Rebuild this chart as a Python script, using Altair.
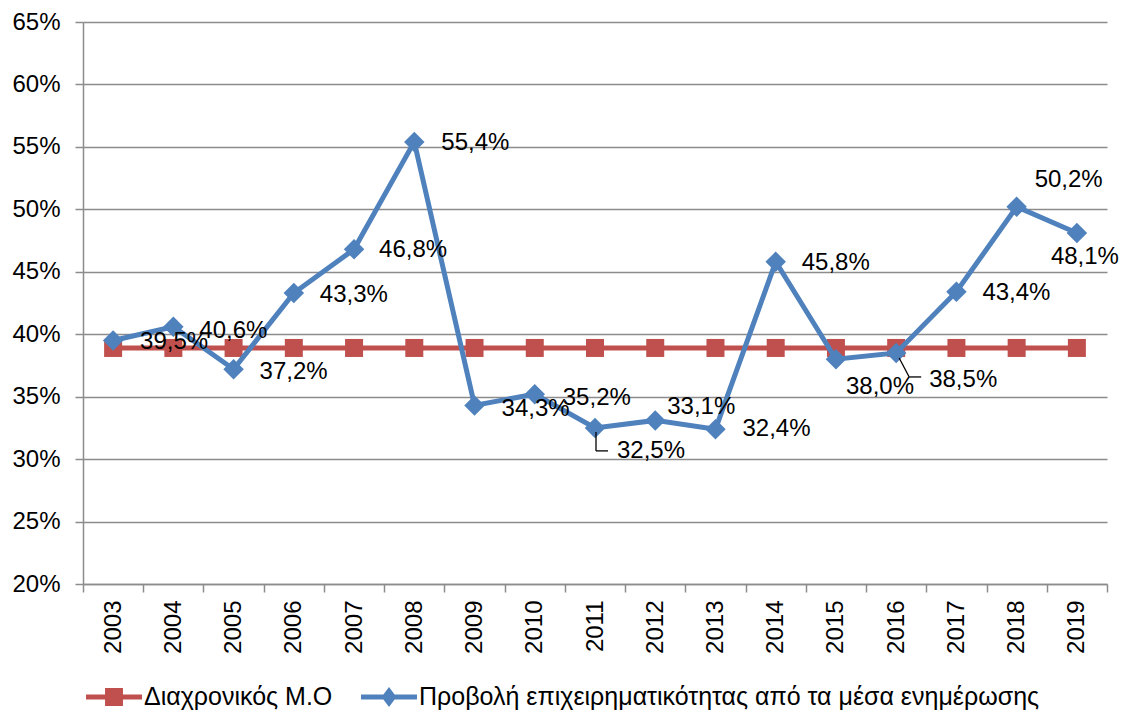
import altair as alt
import pandas as pd

years = [str(y) for y in range(2003, 2020)]
projection = [39.5, 40.6, 37.2, 43.3, 46.8, 55.4, 34.3, 35.2, 32.5, 33.1,
              32.4, 45.8, 38.0, 38.5, 43.4, 50.2, 48.1]
average = [38.9] * 17
series_names = ["Διαχρονικός Μ.Ο",
                "Προβολή επιχειρηματικότητας από τα μέσα ενημέρωσης"]

# label offsets (pixels) relative to each point
label_dx = [27, 26, 26, 26, 25, 27, 27, 28, 22, 12, 27, 26, 10, 33, 26, 18, -26]
label_dy = [2, 4, 3, 2, 1, 1, 4, 4, 23, -13, 0, 1, 28, 27, 1, -27, 24]

# leader line segments (pixel offsets from the point): year, x1, y1, x2, y2
leader_segments = [
    ("2011", 1, 4, 1, 23), ("2011", 1, 23, 13, 23),
    ("2016", 3, 5, 13, 24), ("2016", 13, 24, 25, 24),
]

RED = "#C0504D"
BLUE = "#4F81BD"
GRID = "#8C8C8C"
FONT = "Liberation Sans"
FS = 24
LEG_FS = 25

df = pd.DataFrame({
    "year": years * 2,
    "value": average + projection,
    "series": [series_names[0]] * 17 + [series_names[1]] * 17,
})
avg_df = df[df.series == series_names[0]]
proj_df = df[df.series == series_names[1]]

lab = pd.DataFrame({
    "year": years,
    "value": projection,
    "text": [f"{v:.1f}".replace(".", ",") + "%" for v in projection],
})
val_map = dict(zip(years, projection))

x_enc = alt.X(
    "year:O",
    scale=alt.Scale(type="band", paddingInner=0, paddingOuter=0),
    bandPosition=0.5,
    title=None,
    axis=alt.Axis(
        labelAngle=270, labelFontSize=FS, labelFont=FONT, labelColor="black",
        tickBand="extent", tickSize=8, tickColor=GRID, tickWidth=1.5,
        domainColor=GRID, domainWidth=1.5, grid=False, labelPadding=8,
    ),
)
y_enc = alt.Y(
    "value:Q",
    scale=alt.Scale(domain=[20, 65], nice=False, zero=False),
    title=None,
    axis=alt.Axis(
        values=list(range(20, 70, 5)), labelExpr="datum.value + '%'",
        labelFontSize=FS, labelFont=FONT, labelColor="black",
        grid=True, gridColor=GRID, gridWidth=1.5,
        tickSize=8, tickColor=GRID, tickWidth=1.5,
        domainColor=GRID, domainWidth=1.5, labelPadding=15,
    ),
)

avg_line = alt.Chart(avg_df).mark_line(color=RED, strokeWidth=5).encode(x=x_enc, y=y_enc)
avg_pts = alt.Chart(avg_df).mark_point(
    shape="square", size=324, filled=True, color=RED, opacity=1
).encode(x=x_enc, y=y_enc)
proj_line = alt.Chart(proj_df).mark_line(color=BLUE, strokeWidth=5).encode(x=x_enc, y=y_enc)
proj_pts = alt.Chart(proj_df).mark_point(
    shape="diamond", size=420, filled=True, color=BLUE, opacity=1
).encode(x=x_enc, y=y_enc)

label_layers = []
for i in range(len(years)):
    label_layers.append(
        alt.Chart(lab.iloc[[i]]).mark_text(
            align="left", baseline="middle", fontSize=FS, font=FONT,
            color="black", dx=label_dx[i], dy=label_dy[i],
        ).encode(x=x_enc, y=y_enc, text="text:N")
    )

leader_layers = []
for yr, ax, ay, bx, by in leader_segments:
    seg = pd.DataFrame({"year": [yr], "value": [val_map[yr]]})
    leader_layers.append(
        alt.Chart(seg).mark_rule(
            color="black", strokeWidth=1.3,
            xOffset=ax, yOffset=ay, x2Offset=bx, y2Offset=by,
        ).encode(x=x_enc, y=y_enc, x2="year:O", y2="value:Q")
    )

sq_path = "M-1,-0.09H-0.32V-0.32H0.32V-0.09H1V0.09H0.32V0.32H-0.32V0.09H-1Z"
dm_path = "M-1,-0.09H-0.2L0,-0.36L0.2,-0.09H1V0.09H0.2L0,0.36L-0.2,0.09H-1Z"

leg = alt.Legend(
    title=None, orient="none", legendX=3, legendY=647,
    direction="horizontal", symbolSize=3136, symbolOpacity=1,
    symbolStrokeWidth=0, labelFontSize=LEG_FS, labelFont=FONT,
    labelColor="black", labelOffset=2, columnPadding=28,
    padding=0, labelLimit=900,
)
legend_layer = alt.Chart(df).mark_point(filled=True, opacity=0).encode(
    x=x_enc, y=y_enc,
    fill=alt.Fill("series:N", scale=alt.Scale(domain=series_names, range=[RED, BLUE]),
                  legend=leg),
    shape=alt.Shape("series:N", scale=alt.Scale(domain=series_names, range=[sq_path, dm_path]),
                    legend=leg),
)

chart = alt.layer(
    avg_line, avg_pts, proj_line, proj_pts, *leader_layers, *label_layers, legend_layer
).properties(
    width=1024, height=562,
    autosize=alt.AutoSizeParams(type="none"),
    padding={"left": 75, "top": 14, "right": 14, "bottom": 126},
).configure_view(stroke=None)

chart.save("out.html", embed_options={"renderer": "svg", "actions": False})
